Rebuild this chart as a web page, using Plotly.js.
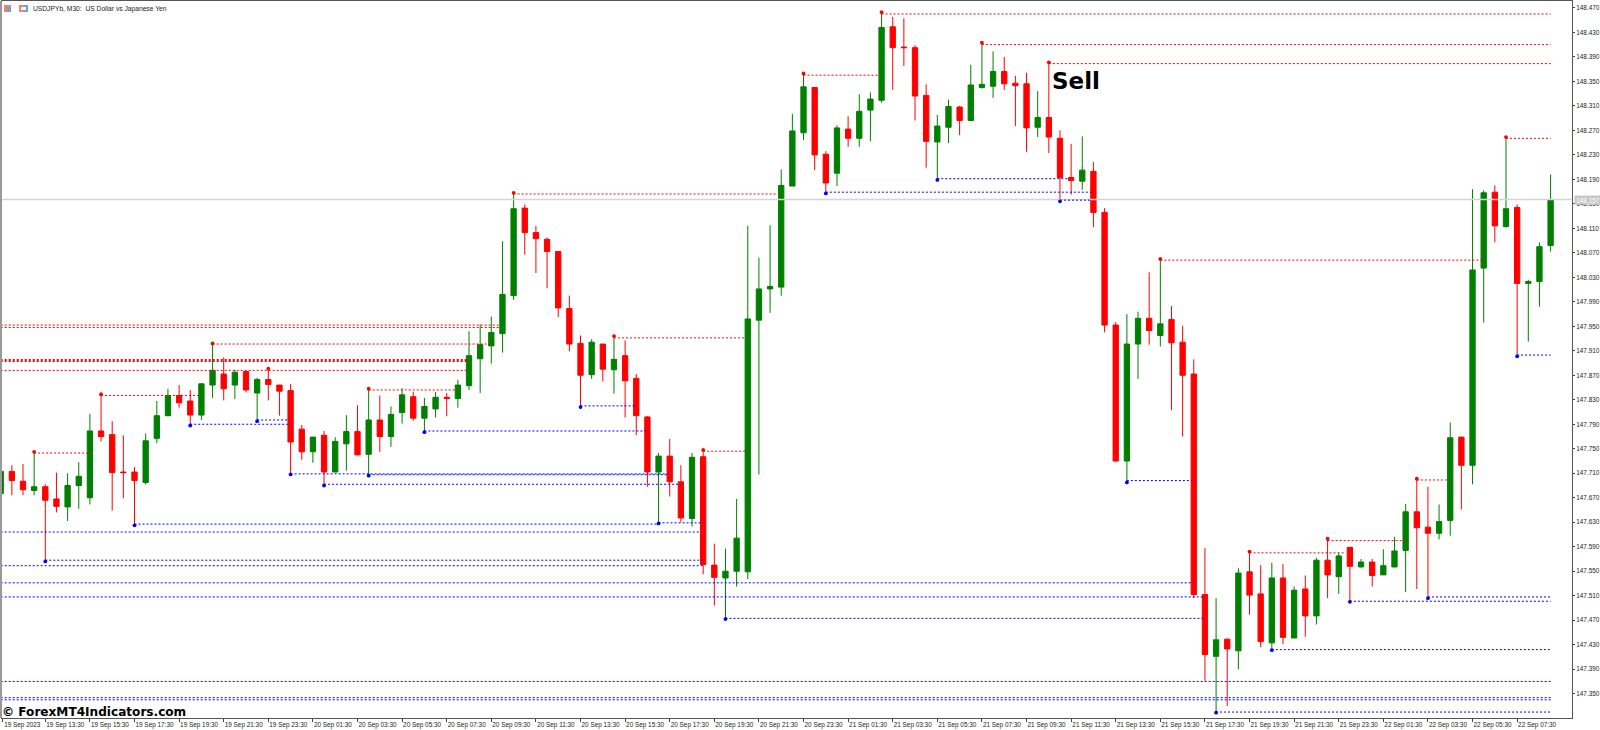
<!DOCTYPE html>
<html><head><meta charset="utf-8">
<script src="https://cdn.plot.ly/plotly-3.0.1.min.js"></script>
<style>html,body{margin:0;padding:0;background:#fff}#c{width:1600px;height:730px}</style>
</head><body><div id="c"></div>
<script>
const chartTitle = "USDJPYb, M30:  US Dollar vs Japanese Yen";
const lastPrice = 148.157;
const barOpen = [
147.677,147.713,147.697,147.682,147.688,147.668,147.655,147.690,147.670,147.779,
147.773,147.712,147.712,147.695,147.767,147.804,147.837,147.828,147.805,147.854,
147.872,147.854,147.876,147.841,147.863,147.854,147.845,147.782,147.745,147.772,
147.712,147.758,147.778,147.741,147.797,147.770,147.809,147.835,147.800,147.815,
147.834,147.832,147.853,147.897,147.918,147.938,148.000,148.143,148.103,148.092,
148.072,147.979,147.922,147.871,147.921,147.879,147.902,147.865,147.802,147.712,
147.738,147.696,147.636,147.737,147.560,147.539,147.550,147.549,147.960,148.011,
148.014,148.179,148.266,148.340,148.231,148.200,148.272,148.257,148.303,148.319,
148.439,148.406,148.405,148.327,148.251,148.275,148.308,148.286,148.340,148.342,
148.366,148.347,148.346,148.275,148.291,148.257,148.193,148.187,148.203,148.136,
147.952,147.730,147.921,147.963,147.935,147.961,147.924,147.872,147.512,147.411,
147.439,147.420,147.549,147.513,147.433,147.539,147.441,147.521,147.477,147.568,
147.541,147.589,147.557,147.565,147.544,147.557,147.584,147.647,147.622,147.612,
147.633,147.769,147.723,148.045,148.169,148.113,148.144,148.020,148.023,148.082];
const barClose = [
147.713,147.698,147.683,147.688,147.666,147.656,147.690,147.705,147.779,147.770,
147.711,147.711,147.698,147.763,147.804,147.837,147.825,147.805,147.856,147.878,
147.848,147.875,147.846,147.863,147.855,147.844,147.761,147.745,147.769,147.712,
147.762,147.778,147.740,147.797,147.770,147.806,147.838,147.800,147.819,147.834,
147.832,147.854,147.902,147.920,147.940,148.002,148.142,148.103,148.093,148.072,
147.980,147.921,147.870,147.924,147.880,147.896,147.861,147.804,147.712,147.738,
147.696,147.637,147.736,147.561,147.540,147.550,147.604,147.962,148.011,148.015,
148.180,148.269,148.341,148.230,148.184,148.274,148.257,148.301,148.321,148.438,
148.405,148.405,148.326,148.252,148.277,148.309,148.286,148.344,148.345,148.366,
148.346,148.343,148.274,148.291,148.259,148.193,148.188,148.205,148.136,147.952,
147.730,147.921,147.963,147.943,147.954,147.923,147.870,147.512,147.414,147.438,
147.423,147.547,147.511,147.435,147.539,147.442,147.519,147.477,147.568,147.544,
147.575,147.558,147.565,147.543,147.559,147.583,147.647,147.621,147.612,147.631,
147.768,147.723,148.042,148.168,148.114,148.142,148.020,148.023,148.080,148.157];
const barHigh = [
147.720,147.723,147.725,147.745,147.692,147.711,147.710,147.728,147.807,147.839,
147.795,147.772,147.720,147.775,147.828,147.848,147.854,147.846,147.857,147.922,
147.899,147.879,147.877,147.866,147.881,147.854,147.856,147.789,147.769,147.779,
147.769,147.805,147.821,147.848,147.837,147.819,147.849,147.843,147.833,147.843,
147.841,147.863,147.942,147.953,147.966,148.089,148.168,148.149,148.114,148.095,
148.072,148.000,147.935,147.929,147.921,147.934,147.927,147.872,147.803,147.743,
147.766,147.723,147.743,147.748,147.595,147.587,147.668,148.114,148.062,148.115,
148.206,148.297,148.363,148.340,148.236,148.278,148.293,148.329,148.332,148.463,
148.455,148.453,148.409,148.345,148.295,148.320,148.310,148.377,148.413,148.399,
148.390,148.359,148.364,148.334,148.381,148.270,148.248,148.260,148.218,148.143,
147.957,147.970,147.974,148.038,148.060,147.983,147.951,147.896,147.588,147.506,
147.440,147.555,147.582,147.560,147.564,147.562,147.525,147.543,147.572,147.603,
147.580,147.589,147.570,147.570,147.586,147.606,147.660,147.701,147.688,147.659,
147.793,147.769,148.174,148.172,148.180,148.259,148.149,148.026,148.087,148.198];
const barLow = [
147.670,147.674,147.674,147.674,147.566,147.646,147.632,147.652,147.659,147.762,
147.649,147.669,147.625,147.692,147.759,147.803,147.817,147.788,147.797,147.833,
147.829,147.831,147.842,147.795,147.829,147.804,147.708,147.732,147.727,147.690,
147.712,147.714,147.739,147.706,147.745,147.753,147.791,147.796,147.777,147.801,
147.803,147.817,147.846,147.841,147.889,147.907,147.993,148.067,148.037,148.012,
147.965,147.909,147.818,147.864,147.860,147.840,147.801,147.772,147.688,147.628,
147.672,147.630,147.623,147.545,147.494,147.472,147.525,147.537,147.708,147.972,
148.000,148.179,148.254,148.205,148.167,148.179,148.243,148.243,148.252,148.315,
148.336,148.375,148.286,148.209,148.189,148.249,148.262,148.286,148.338,148.323,
148.336,148.277,148.235,148.259,148.233,148.154,148.165,148.173,148.112,147.940,
147.729,147.695,147.864,147.920,147.917,147.813,147.770,147.506,147.371,147.319,
147.330,147.390,147.479,147.426,147.421,147.431,147.441,147.443,147.463,147.506,
147.513,147.500,147.556,147.525,147.544,147.556,147.516,147.521,147.506,147.602,
147.608,147.651,147.692,147.956,148.087,148.111,147.901,147.925,147.982,148.072];

const timeLabels = ["19 Sep 2023","19 Sep 13:30","19 Sep 15:30","19 Sep 17:30","19 Sep 19:30","19 Sep 21:30","19 Sep 23:30",
"20 Sep 01:30","20 Sep 03:30","20 Sep 05:30","20 Sep 07:30","20 Sep 09:30","20 Sep 11:30","20 Sep 13:30","20 Sep 15:30","20 Sep 17:30","20 Sep 19:30","20 Sep 21:30","20 Sep 23:30",
"21 Sep 01:30","21 Sep 03:30","21 Sep 05:30","21 Sep 07:30","21 Sep 09:30","21 Sep 11:30","21 Sep 13:30","21 Sep 15:30","21 Sep 17:30","21 Sep 19:30","21 Sep 21:30","21 Sep 23:30",
"22 Sep 01:30","22 Sep 03:30","22 Sep 05:30","22 Sep 07:30"];
const priceTicks = [147.35,147.39,147.43,147.47,147.51,147.55,147.59,147.63,147.67,147.71,147.75,147.79,147.83,147.87,147.91,147.95,147.99,148.03,148.07,148.11,148.15,148.19,148.23,148.27,148.31,148.35,148.39,148.43,148.47];

const swingHighBars = [3,9,19,24,33,46,55,63,72,79,88,94,104,112,119,127,135];
const swingLowBars = [4,12,17,23,26,29,33,38,52,59,65,74,84,95,101,109,114,121,128,136];

const resPrice = [147.952,147.948,147.878,147.743,147.837,147.921,147.846,148.166,147.931,147.746,148.360,148.460,148.410,148.379,148.058,147.580,147.600,147.699,148.257];
const resStart = [0,0,0,3,9,19,33,46,55,63,72,79,88,94,104,112,119,127,135];
const resEnd = [44.7,44.7,41.8,8,17.8,43.9,41,69.7,66.8,67,78.9,139,139,139,133,120.6,126,129.7,139];
const heavyResPrice = [147.894];
const heavyResStart = [0];
const heavyResEnd = [41.8];
const supPrice = [147.709,147.7075,147.692,147.627,147.629,147.614,147.568,147.559,147.531,147.508,147.473,147.370,147.3435,147.340,147.790,147.797,147.779,147.820,148.169,148.191,148.156,147.698,147.422,147.501,147.508,147.903,147.320];
const supStart = [26,33,29,12,59,0,4,0,0,0,65,0,0,0,17,23,38,52,74,84,95,101,114,121,128,136,109];
const supEnd = [60,60,61,59,63,62.7,63,63,107,108,108,139,139,139,25.9,25.9,58,56.9,97.8,95.7,97.8,106.8,139,139,139,139,139];

const barIndex = barOpen.map((_, i) => i);
function segX(s, e){ return s.flatMap((v, i) => [v, e[i], null]); }
function segY(p){ return p.flatMap(v => [v, v, null]); }

const FONT = "Liberation Sans, Arial, sans-serif";
const traces = [
  {type:"scatter",mode:"lines",x:[0,141],y:[lastPrice,lastPrice],line:{color:"#d4d4d4",width:1.5},hoverinfo:"skip"},
  {type:"candlestick",x:barIndex,open:barOpen,high:barHigh,low:barLow,close:barClose,whiskerwidth:0,
   increasing:{line:{color:"#008000",width:1},fillcolor:"#008000"},
   decreasing:{line:{color:"#ff0000",width:1},fillcolor:"#ff0000"}},
  {type:"scatter",mode:"lines",x:segX(resStart,resEnd),y:segY(resPrice),connectgaps:false,line:{color:"#ff0000",width:1,dash:"2px,2px"},hoverinfo:"skip"},
  {type:"scatter",mode:"lines",x:segX(heavyResStart,heavyResEnd),y:segY(heavyResPrice),connectgaps:false,line:{color:"#ff0000",width:3,dash:"2px,2px"},hoverinfo:"skip"},
  {type:"scatter",mode:"lines",x:segX(supStart,supEnd),y:segY(supPrice),connectgaps:false,line:{color:"#0000ff",width:1,dash:"2px,2px"},hoverinfo:"skip"},
  {type:"scatter",mode:"markers",x:swingHighBars,y:swingHighBars.map(i=>barHigh[i]),marker:{color:"#ff0000",size:3.8},hoverinfo:"skip"},
  {type:"scatter",mode:"markers",x:swingLowBars,y:swingLowBars.map(i=>barLow[i]),marker:{color:"#0000ff",size:3.8},hoverinfo:"skip"}
];

const px = v => (v-2)/1570, py = v => (718-v)/717;
function box(x0,y0,x1,y1,fill){return {type:"rect",xref:"paper",yref:"paper",x0:px(x0),x1:px(x1),y0:py(y0),y1:py(y1),fillcolor:fill,line:{width:0},layer:"above"};}

const layout = {
  width:1600,height:730,showlegend:false,paper_bgcolor:"#fff",plot_bgcolor:"#fff",hovermode:false,boxgap:0.32,
  margin:{l:2,r:28,t:1,b:12,pad:0},
  title:{text:chartTitle,x:33/1600,xanchor:"left",y:1-9/730,yanchor:"middle",font:{family:FONT,size:6.7,color:"#222"}},
  xaxis:{type:"linear",range:[0.117,140.92],rangeslider:{visible:false},showgrid:false,zeroline:false,
    tickmode:"array",tickvals:timeLabels.map((_,k)=>Math.max(k*4,0.14)),ticktext:timeLabels,ticks:"outside",ticklen:3,tickwidth:1,tickcolor:"#444",
    ticklabelshift:20,ticklabelstandoff:-3,tickangle:0,tickfont:{family:FONT,size:6.4,color:"#222"},showline:true,mirror:true,linecolor:"#555",linewidth:1},
  yaxis:{side:"right",range:[147.3103,148.4812],showgrid:false,zeroline:false,
    tickmode:"array",tickvals:priceTicks,ticktext:priceTicks.map(v=>v.toFixed(3)),ticks:"outside",ticklen:2,tickwidth:1,tickcolor:"#444",
    tickfont:{family:FONT,size:6.4,color:"#222"},showline:true,mirror:true,linecolor:"#555",linewidth:1},
  annotations:[
    {xref:"x",yref:"y",x:94.12,y:148.350,text:"<b>Sell</b>",showarrow:false,xanchor:"left",yanchor:"middle",font:{family:"DejaVu Sans",size:23,color:"#000"}},
    {xref:"paper",yref:"paper",x:px(0.5),y:py(712),text:"<b>© ForexMT4Indicators.com</b>",showarrow:false,xanchor:"left",yanchor:"middle",font:{family:"DejaVu Sans",size:12.1,color:"#000"},borderpad:0},
    {xref:"paper",yref:"y",x:px(1574),y:lastPrice,text:lastPrice.toFixed(3),showarrow:false,xanchor:"left",yanchor:"middle",bgcolor:"#c8c8c8",borderpad:0,font:{family:FONT,size:6.4,color:"#fff"},width:26,height:8}
  ],
  shapes:[
    box(4,5,11,12,"#e9837a"),box(7,7,11,12,"#6fa4d8"),
    box(19,5,24,12,"#e9837a"),box(24,5,28,12,"#6fa4d8"),box(21,7,26,10,"#fff"),
    {type:"rect",xref:"paper",yref:"paper",x0:px(0),x1:px(2),y0:0,y1:1,fillcolor:"#999",line:{width:0},layer:"above"}
  ]
};
Plotly.newPlot("c",traces,layout,{displayModeBar:false,staticPlot:true,responsive:false});
</script></body></html>
